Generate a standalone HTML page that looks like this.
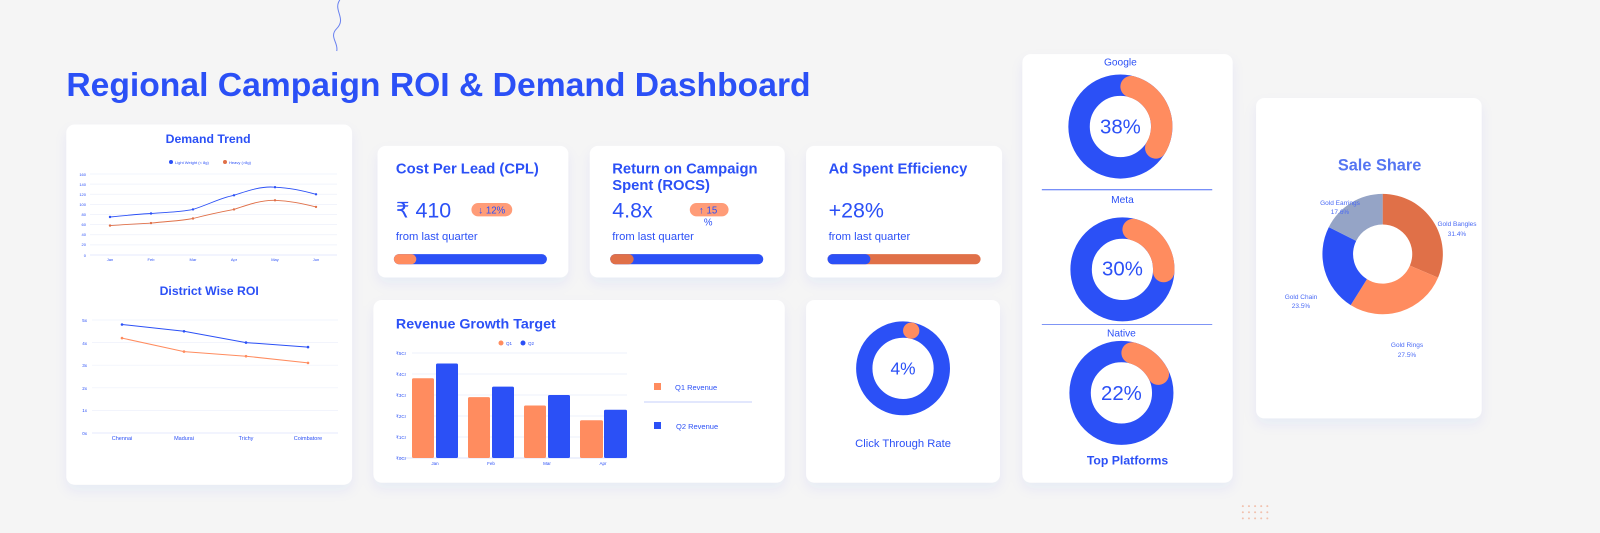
<!DOCTYPE html>
<html><head><meta charset="utf-8"><style>
html,body{margin:0;padding:0;background:#f5f5f5;overflow:hidden;}
svg{display:block;font-family:"Liberation Sans",sans-serif;}
</style></head><body>
<svg width="1600" height="533" viewBox="0 0 1600 533" xmlns="http://www.w3.org/2000/svg">
<defs>
<filter id="sh" x="-10%" y="-10%" width="120%" height="130%"><feDropShadow dx="0" dy="6" stdDeviation="6" flood-color="#2b50f6" flood-opacity="0.06"/></filter>
</defs>
<rect width="1600" height="533" fill="#f5f5f5"/>
<g transform="scale(1.0204)">
<path d="M333 0 C326 10 340 18 330 28 C322 36 332 42 330 50" stroke="#6a82f0" stroke-width="1" fill="none"/>
<g fill="#f0a080" opacity="0.6">
<circle cx="1218" cy="496" r="1"/><circle cx="1224" cy="496" r="1"/><circle cx="1230" cy="496" r="1"/><circle cx="1236" cy="496" r="1"/><circle cx="1242" cy="496" r="1"/>
<circle cx="1218" cy="502" r="1"/><circle cx="1224" cy="502" r="1"/><circle cx="1230" cy="502" r="1"/><circle cx="1236" cy="502" r="1"/><circle cx="1242" cy="502" r="1"/>
<circle cx="1218" cy="508" r="1"/><circle cx="1224" cy="508" r="1"/><circle cx="1230" cy="508" r="1"/><circle cx="1236" cy="508" r="1"/><circle cx="1242" cy="508" r="1"/>
</g>
<text x="65" y="94" font-size="33" font-weight="bold" fill="#2b50f6">Regional Campaign ROI &amp; Demand Dashboard</text>

<g fill="#fff" filter="url(#sh)">
<rect x="65" y="122" width="280" height="353" rx="8"/>
<rect x="370" y="143" width="187" height="129" rx="8"/>
<rect x="578" y="143" width="191" height="129" rx="8"/>
<rect x="790" y="143" width="192" height="129" rx="8"/>
<rect x="366" y="294" width="403" height="179" rx="8"/>
<rect x="790" y="294" width="190" height="179" rx="8"/>
<rect x="1002" y="53" width="206" height="420" rx="8"/>
<rect x="1231" y="96" width="221" height="314" rx="8"/>
</g>

<text x="204" y="140" font-size="12" font-weight="bold" fill="#2b50f6" text-anchor="middle">Demand Trend</text>
<text x="205" y="289" font-size="12" font-weight="bold" fill="#2b50f6" text-anchor="middle">District Wise ROI</text>

<!-- CPL -->
<text x="388" y="170" font-size="14.5" font-weight="bold" fill="#2b50f6">Cost Per Lead (CPL)</text>
<text x="388" y="213" font-size="21" fill="#2b50f6">₹ 410</text>
<rect x="462" y="199" width="40" height="13" rx="6.5" fill="#ff9c78"/>
<text x="482" y="209" font-size="9.5" fill="#2b50f6" text-anchor="middle">↓ 12%</text>
<text x="388" y="235" font-size="11" fill="#2b50f6">from last quarter</text>
<rect x="386" y="249" width="150" height="10" rx="5" fill="#2b50f6"/>
<rect x="386" y="249" width="22" height="10" rx="5" fill="#ff8c5f"/>

<!-- ROCS -->
<text x="600" y="170" font-size="14.5" font-weight="bold" fill="#2b50f6">Return on Campaign</text>
<text x="600" y="186" font-size="14.5" font-weight="bold" fill="#2b50f6">Spent (ROCS)</text>
<text x="600" y="213" font-size="21" fill="#2b50f6">4.8x</text>
<rect x="676" y="199" width="38" height="13" rx="6.5" fill="#ff9c78"/>
<text x="694" y="209" font-size="9.5" fill="#2b50f6" text-anchor="middle">↑ 15</text>
<text x="694" y="221" font-size="9.5" fill="#2b50f6" text-anchor="middle">%</text>
<text x="600" y="235" font-size="11" fill="#2b50f6">from last quarter</text>
<rect x="598" y="249" width="150" height="10" rx="5" fill="#2b50f6"/>
<rect x="598" y="249" width="23" height="10" rx="5" fill="#e07048"/>

<!-- Ad Spent -->
<text x="812" y="170" font-size="14.5" font-weight="bold" fill="#2b50f6">Ad Spent Efficiency</text>
<text x="812" y="213" font-size="21" fill="#2b50f6">+28%</text>
<text x="812" y="235" font-size="11" fill="#2b50f6">from last quarter</text>
<rect x="811" y="249" width="150" height="10" rx="5" fill="#e07048"/>
<rect x="811" y="249" width="42" height="10" rx="5" fill="#2b50f6"/>

<text x="388" y="322" font-size="14" font-weight="bold" fill="#2b50f6">Revenue Growth Target</text>

<!-- CTR -->
<circle cx="885" cy="361" r="38" fill="none" stroke="#2b50f6" stroke-width="16"/>
<circle cx="893" cy="324" r="8" fill="#ff8c5f"/>
<text x="885" y="367" font-size="17" fill="#2b50f6" text-anchor="middle">4%</text>
<text x="885" y="438" font-size="11" fill="#2b50f6" text-anchor="middle">Click Through Rate</text>

<!-- Platforms -->
<text x="1098" y="64" font-size="10" fill="#2b50f6" text-anchor="middle">Google</text>
<circle cx="1098" cy="124" r="40.5" fill="none" stroke="#2b50f6" stroke-width="21"/>
<circle cx="1098" cy="124" r="40.5" fill="none" stroke="#ff8c5f" stroke-width="21" stroke-linecap="round" stroke-dasharray="75 400" transform="rotate(-75 1098 124)"/>
<text x="1098" y="131" font-size="20" fill="#2b50f6" text-anchor="middle">38%</text>
<line x1="1021" x2="1188" y1="186" y2="186" stroke="#4a6af5" stroke-width="1"/>
<text x="1100" y="199" font-size="10" fill="#2b50f6" text-anchor="middle">Meta</text>
<circle cx="1100" cy="264" r="40.5" fill="none" stroke="#2b50f6" stroke-width="21"/>
<circle cx="1100" cy="264" r="40.5" fill="none" stroke="#ff8c5f" stroke-width="21" stroke-linecap="round" stroke-dasharray="55 400" transform="rotate(-75 1100 264)"/>
<text x="1100" y="270" font-size="20" fill="#2b50f6" text-anchor="middle">30%</text>
<line x1="1021" x2="1188" y1="318" y2="318" stroke="#7f95f5" stroke-width="1"/>
<text x="1099" y="330" font-size="10" fill="#2b50f6" text-anchor="middle">Native</text>
<circle cx="1099" cy="385" r="40.5" fill="none" stroke="#2b50f6" stroke-width="21"/>
<circle cx="1099" cy="385" r="40.5" fill="none" stroke="#ff8c5f" stroke-width="21" stroke-linecap="round" stroke-dasharray="34 400" transform="rotate(-75 1099 385)"/>
<text x="1099" y="392" font-size="20" fill="#2b50f6" text-anchor="middle">22%</text>
<text x="1105" y="455" font-size="12" font-weight="bold" fill="#2b50f6" text-anchor="middle">Top Platforms</text>

<!-- Sale Share -->
<text x="1352" y="167" font-size="16" font-weight="bold" fill="#5575f2" text-anchor="middle">Sale Share</text>
<path d="M1355 190 A59 59 0 0 1 1409.3 272.09 L1381.69 260.35 A29 29 0 0 0 1355 220 Z" fill="#e07048"/>
<path d="M1409.3 272.09 A59 59 0 0 1 1323.7 299.01 L1339.62 273.58 A29 29 0 0 0 1381.69 260.35 Z" fill="#ff8c5f"/>
<path d="M1323.7 299.01 A59 59 0 0 1 1302.26 222.54 L1329.08 236 A29 29 0 0 0 1339.62 273.58 Z" fill="#2b50f6"/>
<path d="M1302.26 222.54 A59 59 0 0 1 1355 190 L1355 220 A29 29 0 0 0 1329.08 236 Z" fill="#95a4c6"/>
</g>

<!-- true-coordinate elements -->
<circle cx="171" cy="162" r="2" fill="#2b50f6"/><text x="175" y="164" font-size="4" fill="#2b50f6">Light Weight (&lt; 8g)</text>
<circle cx="225" cy="162" r="2" fill="#e07048"/><text x="229" y="164" font-size="4" fill="#2b50f6">Heavy (&gt;8g)</text>
<g stroke="#eef0fb" stroke-width="0.7">
<line x1="90" x2="337" y1="174" y2="174"/><line x1="90" x2="337" y1="184.1" y2="184.1"/><line x1="90" x2="337" y1="194.25" y2="194.25"/><line x1="90" x2="337" y1="204.4" y2="204.4"/><line x1="90" x2="337" y1="214.5" y2="214.5"/><line x1="90" x2="337" y1="224.6" y2="224.6"/><line x1="90" x2="337" y1="234.75" y2="234.75"/><line x1="90" x2="337" y1="244.9" y2="244.9"/><line x1="90" x2="337" y1="255" y2="255" stroke="#dde3fb"/>
</g>
<g font-size="4" fill="#2b50f6" text-anchor="end">
<text x="86" y="176">160</text><text x="86" y="186">140</text><text x="86" y="196">120</text><text x="86" y="206">100</text><text x="86" y="216">80</text><text x="86" y="226">60</text><text x="86" y="236">40</text><text x="86" y="246">20</text><text x="86" y="257">0</text>
</g>
<g font-size="4" fill="#2b50f6" text-anchor="middle">
<text x="110" y="261">Jan</text><text x="151" y="261">Feb</text><text x="193" y="261">Mar</text><text x="234" y="261">Apr</text><text x="275" y="261">May</text><text x="316" y="261">Jun</text>
</g>
<path d="M110 217 C130 215 140 214 151 213.5 C170 212 180 212 193 209.4 C210 204 220 198 234 195.3 C250 190 262 186 275 187.2 C290 188 300 190 316 194.3" fill="none" stroke="#2b50f6" stroke-width="0.9"/>
<path d="M110 225.6 C130 224 140 224 151 223.1 C170 221 180 221 193 218.5 C210 214 220 212 234 209.4 C250 204 262 200 275 200.3 C290 201 300 203 316 206.9" fill="none" stroke="#e07048" stroke-width="0.9"/>
<g fill="#2b50f6"><circle cx="110" cy="217" r="1.2"/><circle cx="151" cy="213.5" r="1.2"/><circle cx="193" cy="209.4" r="1.2"/><circle cx="234" cy="195.3" r="1.2"/><circle cx="275" cy="187.2" r="1.2"/><circle cx="316" cy="194.3" r="1.2"/></g>
<g fill="#e07048"><circle cx="110" cy="225.6" r="1.2"/><circle cx="151" cy="223.1" r="1.2"/><circle cx="193" cy="218.5" r="1.2"/><circle cx="234" cy="209.4" r="1.2"/><circle cx="275" cy="200.3" r="1.2"/><circle cx="316" cy="206.9" r="1.2"/></g>

<g stroke="#eef0fb" stroke-width="0.7">
<line x1="92" x2="338" y1="320" y2="320"/><line x1="92" x2="338" y1="342.6" y2="342.6"/><line x1="92" x2="338" y1="365.2" y2="365.2"/><line x1="92" x2="338" y1="387.8" y2="387.8"/><line x1="92" x2="338" y1="410.4" y2="410.4"/><line x1="92" x2="338" y1="433" y2="433" stroke="#dde3fb"/>
</g>
<g font-size="4.5" fill="#2b50f6" text-anchor="end">
<text x="87" y="322">5x</text><text x="87" y="345">4x</text><text x="87" y="367">3x</text><text x="87" y="390">2x</text><text x="87" y="412">1x</text><text x="87" y="435">0x</text>
</g>
<g font-size="5.5" fill="#2b50f6" text-anchor="middle">
<text x="122" y="440">Chennai</text><text x="184" y="440">Madurai</text><text x="246" y="440">Trichy</text><text x="308" y="440">Coimbatore</text>
</g>
<polyline points="122,324.5 184,331.3 246,342.6 308,347.1" fill="none" stroke="#2b50f6" stroke-width="1"/>
<polyline points="122,338.1 184,351.6 246,356.2 308,362.9" fill="none" stroke="#ff8c5f" stroke-width="1"/>
<g fill="#2b50f6"><circle cx="122" cy="324.5" r="1.3"/><circle cx="184" cy="331.3" r="1.3"/><circle cx="246" cy="342.6" r="1.3"/><circle cx="308" cy="347.1" r="1.3"/></g>
<g fill="#ff8c5f"><circle cx="122" cy="338.1" r="1.3"/><circle cx="184" cy="351.6" r="1.3"/><circle cx="246" cy="356.2" r="1.3"/><circle cx="308" cy="362.9" r="1.3"/></g>

<!-- Revenue chart -->
<circle cx="501" cy="343" r="2.5" fill="#ff8c5f"/><text x="506" y="345" font-size="4.5" fill="#2b50f6">Q1</text>
<circle cx="523" cy="343" r="2.5" fill="#2b50f6"/><text x="528" y="345" font-size="4.5" fill="#2b50f6">Q2</text>
<g stroke="#eef0fb" stroke-width="1">
<line x1="412" x2="627" y1="353" y2="353"/><line x1="412" x2="627" y1="374" y2="374"/><line x1="412" x2="627" y1="395" y2="395"/><line x1="412" x2="627" y1="416" y2="416"/><line x1="412" x2="627" y1="437" y2="437"/><line x1="400" x2="627" y1="458" y2="458" stroke="#dde3fb"/>
</g>
<g font-size="4.5" fill="#2b50f6">
<text x="396" y="355">₹5Cr</text><text x="396" y="376">₹4Cr</text><text x="396" y="397">₹3Cr</text><text x="396" y="418">₹2Cr</text><text x="396" y="439">₹1Cr</text><text x="396" y="460">₹0Cr</text>
</g>
<g fill="#ff8c5f">
<rect x="412" y="378.2" width="22" height="79.8" rx="1.5"/><rect x="468" y="397.1" width="22" height="60.9" rx="1.5"/><rect x="524" y="405.5" width="22" height="52.5" rx="1.5"/><rect x="580" y="420.2" width="23" height="37.8" rx="1.5"/>
</g>
<g fill="#2b50f6">
<rect x="436" y="363.5" width="22" height="94.5" rx="1.5"/><rect x="492" y="386.6" width="22" height="71.4" rx="1.5"/><rect x="548" y="395" width="22" height="63" rx="1.5"/><rect x="604" y="409.7" width="23" height="48.3" rx="1.5"/>
</g>
<g font-size="4.5" fill="#2b50f6" text-anchor="middle">
<text x="435" y="465">Jan</text><text x="491" y="465">Feb</text><text x="547" y="465">Mar</text><text x="603" y="465">Apr</text>
</g>
<rect x="654" y="383" width="7" height="7" fill="#ff8c5f"/>
<text x="675" y="390" font-size="7.5" fill="#2b50f6">Q1 Revenue</text>
<line x1="644" x2="752" y1="402" y2="402" stroke="#c6cffb" stroke-width="1"/>
<rect x="654" y="422" width="7" height="7" fill="#2b50f6"/>
<text x="676" y="429" font-size="7.5" fill="#2b50f6">Q2 Revenue</text>

<g font-size="6.5" fill="#4a6af5" text-anchor="middle">
<text x="1340" y="205">Gold Earrings</text><text x="1340" y="214">17.6%</text>
<text x="1457" y="226">Gold Bangles</text><text x="1457" y="236">31.4%</text>
<text x="1301" y="299">Gold Chain</text><text x="1301" y="308">23.5%</text>
<text x="1407" y="347">Gold Rings</text><text x="1407" y="357">27.5%</text>
</g>
</svg>
</body></html>
